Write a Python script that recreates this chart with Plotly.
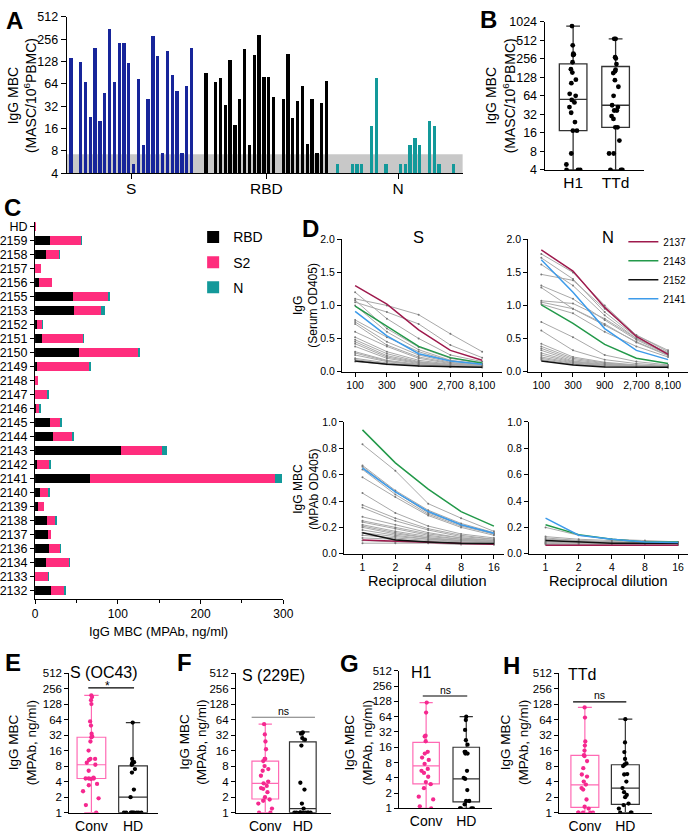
import numpy as np
import plotly.graph_objects as go

W, H = 700, 840
FONT = "Liberation Sans, Arial, sans-serif"
NARROW = "Liberation Sans Narrow, Liberation Sans, Arial, sans-serif"

# ---------------- data ----------------
# A: IgG MBC per subject (MASC/10^6 PBMC)
a_groups = ["S", "RBD", "N"]
a_s = [143, 4, 127, 68, 22.6, 197, 20, 48, 352, 68, 226, 226, 123, 5.3, 74, 9.5,
       40, 286, 153, 7.4, 175, 84, 51, 7.4, 60, 192]
a_rbd = [89, 4, 68, 76, 33, 136, 18, 40, 190, 9.5, 155, 292, 79, 79, 43, 4,
         40, 163, 22.5, 37, 60, 10, 40, 7.4, 35, 70]
a_n = [5.3, 4, 4, 5.3, 5.3, 5.3, 4, 17.4, 76, 4, 5.3, 4, 4, 5.3, 5.3, 9.5,
       12, 9.5, 4, 20, 17.4, 5.3, 4, 4, 5.3, 4]
a_ticks = [4, 8, 16, 32, 64, 128, 256, 512]

# B: H1 / TTd
b_cats = ["H1", "TTd"]
b_h1 = [870, 424, 310, 300, 295, 225, 173, 153, 117, 103, 69, 64, 55, 50, 42, 34,
        24, 17.4, 17.4, 7.4, 4.9, 4, 4, 4]
b_ttd = [540, 540, 272, 260, 210, 170, 160, 150, 115, 90, 64, 45, 42, 37, 37, 30,
         27, 19.7, 19.7, 12, 7.4, 7.4, 4, 4, 4]
b_h1_stats = [4, 17.4, 56, 212, 870]      # min, q1, median, q3, max
b_ttd_stats = [4, 19.7, 45, 192, 540]
b_ticks = [4, 8, 16, 32, 64, 128, 256, 512, 1024]

# C: MPAb ng/ml per subject
c_ids = ["HD", "2159", "2158", "2157", "2156", "2155", "2153", "2152", "2151", "2150",
         "2149", "2148", "2147", "2146", "2145", "2144", "2143", "2142", "2141", "2140",
         "2139", "2138", "2137", "2136", "2134", "2133", "2132"]
c_rbd = [0, 18.6, 13, 0, 4.8, 45.5, 46.7, 2.8, 8.7, 52.7, 2.8, 0, 0, 0.8, 17.8, 21.8,
         103.7, 2, 66.9, 5.9, 3.6, 14.3, 15.4, 17, 12.7, 0, 19]
c_s2 = [0.8, 37.6, 16.3, 7.1, 15.8, 43.5, 33.3, 5.9, 49.5, 72.8, 63.3, 3.6, 15, 4.3, 13.1,
        24.1, 50.3, 15.8, 222.9, 9.9, 6.7, 10.6, 3.6, 13.9, 28.9, 15.8, 16.6]
c_n = [0, 0.4, 0.4, 0, 0, 2, 4.3, 0.8, 0.4, 0.4, 0.4, 0, 1.2, 2, 1.1, 0.8,
       5.5, 0.4, 8.7, 1.2, 0, 1.2, 0, 0.4, 0.4, 0.4, 0.8]
c_ticks = [0, 100, 200, 300]

# D: OD405 dilution curves
d_serum_dil = ["100", "300", "900", "2,700", "8,100"]
d_mpab_dil = ["1", "2", "4", "8", "16"]
d_ids = ["2137", "2143", "2152", "2141"]
d_s_serum_hl = [[1.30, 1.02, 0.63, 0.32, 0.17], [0.99, 0.69, 0.38, 0.21, 0.13],
                [0.16, 0.11, 0.085, 0.07, 0.065], [0.91, 0.54, 0.27, 0.16, 0.11]]
d_n_serum_hl = [[1.84, 1.52, 0.97, 0.53, 0.26], [1.01, 0.73, 0.41, 0.20, 0.12],
                [0.16, 0.10, 0.07, 0.065, 0.065], [1.69, 1.20, 0.65, 0.32, 0.18]]
d_s_mpab_hl = [[0.105, 0.095, 0.082, 0.077, 0.072], [0.94, 0.69, 0.49, 0.32, 0.21],
               [0.16, 0.105, 0.09, 0.08, 0.077], [0.65, 0.47, 0.32, 0.22, 0.155]]
d_n_mpab_hl = [[0.065, 0.065, 0.065, 0.065, 0.065], [0.22, 0.145, 0.11, 0.09, 0.09],
               [0.10, 0.09, 0.08, 0.08, 0.08], [0.27, 0.14, 0.11, 0.09, 0.085]]
d_s_serum_gray = [
    [1.10, 1.00, 0.86, 0.57, 0.30], [1.20, 0.80, 0.50, 0.25, 0.15], [1.05, 0.90, 0.72, 0.40, 0.21],
    [1.08, 0.65, 0.37, 0.20, 0.12], [1.00, 0.60, 0.33, 0.17, 0.11], [0.78, 0.52, 0.30, 0.16, 0.10],
    [0.75, 0.45, 0.25, 0.14, 0.09], [0.72, 0.40, 0.22, 0.13, 0.09], [0.60, 0.38, 0.20, 0.12, 0.08],
    [0.52, 0.30, 0.17, 0.11, 0.08], [0.48, 0.27, 0.15, 0.10, 0.07], [0.45, 0.24, 0.14, 0.10, 0.07],
    [0.42, 0.22, 0.13, 0.09, 0.07], [0.38, 0.20, 0.12, 0.09, 0.07], [0.30, 0.17, 0.11, 0.08, 0.07],
    [0.28, 0.16, 0.10, 0.08, 0.07], [0.25, 0.15, 0.10, 0.08, 0.07], [0.20, 0.13, 0.09, 0.08, 0.07],
    [0.18, 0.12, 0.09, 0.07, 0.07], [0.15, 0.11, 0.09, 0.07, 0.06]]
d_n_serum_gray = [
    [1.78, 1.50, 1.00, 0.55, 0.30], [1.72, 1.40, 0.90, 0.52, 0.28], [1.62, 1.30, 0.85, 0.50, 0.27],
    [1.47, 1.38, 0.95, 0.55, 0.32], [1.30, 1.10, 0.78, 0.48, 0.26], [1.27, 0.95, 0.70, 0.45, 0.25],
    [1.07, 1.03, 0.80, 0.50, 0.28], [1.05, 0.95, 0.72, 0.44, 0.24], [1.02, 0.88, 0.60, 0.38, 0.22],
    [0.75, 0.52, 0.25, 0.15, 0.10], [0.62, 0.32, 0.18, 0.12, 0.09], [0.42, 0.22, 0.14, 0.10, 0.08],
    [0.38, 0.20, 0.13, 0.09, 0.08], [0.35, 0.18, 0.12, 0.09, 0.07], [0.32, 0.16, 0.11, 0.08, 0.07],
    [0.28, 0.15, 0.10, 0.08, 0.07], [0.25, 0.14, 0.10, 0.08, 0.07], [0.22, 0.13, 0.09, 0.07, 0.07],
    [0.20, 0.12, 0.09, 0.07, 0.06], [0.18, 0.11, 0.08, 0.07, 0.06]]
d_s_mpab_gray = [
    [0.83, 0.63, 0.38, 0.27, 0.17], [0.67, 0.48, 0.33, 0.23, 0.16], [0.66, 0.47, 0.31, 0.22, 0.15],
    [0.64, 0.45, 0.30, 0.21, 0.15], [0.58, 0.43, 0.29, 0.20, 0.14], [0.46, 0.31, 0.21, 0.15, 0.12],
    [0.37, 0.27, 0.19, 0.14, 0.11], [0.35, 0.25, 0.18, 0.13, 0.11], [0.28, 0.22, 0.16, 0.12, 0.10],
    [0.25, 0.20, 0.15, 0.12, 0.10], [0.24, 0.19, 0.14, 0.11, 0.10], [0.22, 0.17, 0.13, 0.11, 0.09],
    [0.21, 0.16, 0.12, 0.10, 0.09], [0.20, 0.15, 0.12, 0.10, 0.09], [0.18, 0.14, 0.11, 0.10, 0.09],
    [0.16, 0.13, 0.11, 0.09, 0.08], [0.14, 0.12, 0.10, 0.09, 0.08], [0.12, 0.11, 0.09, 0.08, 0.08],
    [0.10, 0.09, 0.09, 0.08, 0.07], [0.08, 0.08, 0.08, 0.07, 0.07]]
d_n_mpab_gray = [
    [0.20, 0.14, 0.11, 0.10, 0.09], [0.13, 0.11, 0.10, 0.09, 0.09], [0.12, 0.10, 0.09, 0.09, 0.08],
    [0.11, 0.10, 0.09, 0.08, 0.08], [0.10, 0.09, 0.09, 0.08, 0.08], [0.09, 0.09, 0.08, 0.08, 0.08],
    [0.09, 0.08, 0.08, 0.08, 0.07], [0.08, 0.08, 0.08, 0.07, 0.07], [0.08, 0.07, 0.07, 0.07, 0.07],
    [0.07, 0.07, 0.07, 0.07, 0.07]]

# E-H: Conv vs HD
efgh_cats = ["Conv", "HD"]
efgh_ticks = [1, 2, 4, 8, 16, 32, 64, 128, 256, 512]
e_conv = [189, 175, 152, 128, 59, 49, 34, 30, 29, 24, 16, 11, 11, 10.5, 9.3, 8.5, 6.5,
          4.8, 4.6, 4.6, 4.5, 4.6, 3.6, 3.4, 2.6, 1.9, 1.4, 1]
e_hd = [56, 11, 9.5, 9.5, 9, 8.5, 7, 6, 2.8, 2, 1, 1, 1, 1, 1, 1, 1, 1, 1]
e_conv_stats = [1, 4.6, 8.5, 29, 189]
e_hd_stats = [1, 1, 2, 8.1, 56]
f_conv = [52, 33, 24, 17, 11, 11, 10, 8, 7, 6.5, 5.2, 4, 3.7, 3.3, 3, 2.9, 2.5, 2.0,
          1.8, 1.7, 1.5, 1.2, 1, 1]
f_hd = [36, 35, 34, 28, 26, 20, 3.8, 2.8, 1.5, 1.2, 1, 1, 1, 1, 1, 1, 1, 1, 1, 1]
f_conv_stats = [1, 1.84, 3.7, 10, 52]
f_hd_stats = [1, 1, 1.2, 23.6, 36.8]
g_conv = [121, 77, 27, 26, 21, 13, 12, 10, 9, 7.5, 6, 5.5, 5, 4.2, 3.3, 3, 2.5, 1.7,
          1.5, 1.1, 1]
g_hd = [64, 55, 35, 22, 18, 13, 13, 12, 12, 5.5, 4.0, 3.8, 2.3, 1.4, 1.4, 1.2, 1, 1, 1, 1]
g_conv_stats = [1, 3.05, 6.9, 20, 121]
g_hd_stats = [1, 1.35, 3.8, 16, 64]
h_conv = [110, 70, 24, 20, 16, 13, 12.5, 10, 7.3, 5.5, 5, 4, 3.5, 3, 2.8, 1.8, 1.3,
          1.2, 1, 1, 1, 1, 1]
h_hd = [65, 23, 15, 11, 9, 8.5, 8, 5.6, 5.5, 4, 3, 2.5, 2.2, 2, 1.5, 1.4, 1.2, 1, 1, 1]
h_conv_stats = [1, 1.26, 3.46, 12.9, 110]
h_hd_stats = [1, 1.45, 3.0, 8.5, 65]

# ---------------- styles ----------------
BLUE = "#17259A"
TEAL = "#13999A"
PINK = "#FF2D7D"
PINK_PT = "#F5288F"
PINK_BOX = "#FF6AB4"
GRAY_LINE = "#A9A9A9"
D_COLORS = ["#9E1A4D", "#23994A", "#111111", "#3D9BEA"]


def px(x):
    return x / W


def py(y):
    return 1 - y / H


def axis(dom, anchor, **kw):
    base = dict(domain=dom, anchor=anchor, showgrid=False, zeroline=False, showline=True,
                linecolor="black", linewidth=1.2, ticks="outside", ticklen=4,
                tickcolor="black", tickwidth=1.1, fixedrange=True,
                tickfont=dict(family=FONT, size=12, color="black"))
    base.update(kw)
    return base


fig = go.Figure()

# ---------------- A ----------------
a_offsets = [0, 28, 55.3]
a_centers = []
for vals, col, off in zip([a_s, a_rbd, a_n], [BLUE, "black", TEAL], a_offsets):
    xs = np.arange(len(vals)) + off
    a_centers.append(off + (len(vals) - 1) / 2)
    fig.add_trace(go.Bar(x=xs, y=vals, width=0.68, marker=dict(color=col, line=dict(width=0)),
                         xaxis="x", yaxis="y", showlegend=False, hoverinfo="skip"))


# ---------------- B ----------------
def add_box(xa, ya, cat, vals, stats, line_col, pt_col, width, lw=1.2, psize=4.5):
    lo, q1, med, q3, hi = stats
    fig.add_trace(go.Box(x=[cat], q1=[q1], median=[med], q3=[q3], lowerfence=[lo],
                         upperfence=[hi], boxpoints=False, width=width, whiskerwidth=0.5,
                         fillcolor="rgba(0,0,0,0)", line=dict(color=line_col, width=lw),
                         xaxis=xa, yaxis=ya, showlegend=False, hoverinfo="skip"))
    fig.add_trace(go.Box(x=[cat] * len(vals), y=vals, boxpoints="all", jitter=0.75, pointpos=0,
                         width=width, fillcolor="rgba(0,0,0,0)",
                         line=dict(color="rgba(0,0,0,0)", width=0),
                         marker=dict(color=pt_col, size=psize),
                         xaxis=xa, yaxis=ya, showlegend=False, hoverinfo="skip"))


add_box("x2", "y2", b_cats[0], b_h1, b_h1_stats, "#333333", "black", 0.65, 1.3, 4.8)
add_box("x2", "y2", b_cats[1], b_ttd, b_ttd_stats, "#333333", "black", 0.65, 1.3, 4.8)

# ---------------- C ----------------
for vals, col, name in zip([c_rbd, c_s2, c_n], ["black", PINK, TEAL], ["RBD", "S2", "N"]):
    fig.add_trace(go.Bar(y=c_ids, x=vals, orientation="h", width=0.7, name=name,
                         marker=dict(color=col, line=dict(width=0)), legendgroup=name,
                         xaxis="x3", yaxis="y3", legend="legend", hoverinfo="skip"))

# ---------------- D ----------------
d_panels = [
    ("x4", "y4", d_serum_dil, d_s_serum_gray, d_s_serum_hl, True),
    ("x5", "y5", d_serum_dil, d_n_serum_gray, d_n_serum_hl, False),
    ("x6", "y6", d_mpab_dil, d_s_mpab_gray, d_s_mpab_hl, False),
    ("x7", "y7", d_mpab_dil, d_n_mpab_gray, d_n_mpab_hl, False),
]
for xa, ya, dil, grays, hls, show in d_panels:
    for g in grays:
        fig.add_trace(go.Scatter(x=dil, y=g, mode="lines+markers",
                                 line=dict(color=GRAY_LINE, width=1),
                                 marker=dict(color="#777777", size=2),
                                 xaxis=xa, yaxis=ya, showlegend=False, hoverinfo="skip"))
    for sid, vals, col in zip(d_ids, hls, D_COLORS):
        fig.add_trace(go.Scatter(x=dil, y=vals, mode="lines", name=sid,
                                 line=dict(color=col, width=1.5), legendgroup=sid,
                                 legend="legend2", showlegend=show,
                                 xaxis=xa, yaxis=ya, hoverinfo="skip"))

# ---------------- E-H ----------------
efgh = [
    ("x8", "y8", e_conv, e_conv_stats, e_hd, e_hd_stats, 0.69),
    ("x9", "y9", f_conv, f_conv_stats, f_hd, f_hd_stats, 0.71),
    ("x10", "y10", g_conv, g_conv_stats, g_hd, g_hd_stats, 0.66),
    ("x11", "y11", h_conv, h_conv_stats, h_hd, h_hd_stats, 0.69),
]
for xa, ya, cv, cs, hv, hs, bw in efgh:
    add_box(xa, ya, efgh_cats[0], cv, cs, PINK_BOX, PINK_PT, bw, 1.2, 4.3)
    add_box(xa, ya, efgh_cats[1], hv, hs, "#333333", "black", bw, 1.2, 4.3)

# ---------------- layout ----------------
lay = dict(
    width=W, height=H, margin=dict(l=0, r=0, t=0, b=0),
    paper_bgcolor="white", plot_bgcolor="white",
    font=dict(family=FONT, color="black"),
    barmode="stack", boxmode="overlay",
)

# A
lay["xaxis"] = axis([px(64), px(468)], "y", range=[-0.87, 81.2], tickvals=a_centers,
                    ticktext=a_groups, ticklen=5, ticklabelstandoff=-4,
                    tickfont=dict(family=FONT, size=15.5))
lay["yaxis"] = axis([py(169), py(10)], "x", type="log", range=[np.log10(4), np.log10(512)],
                    tickvals=a_ticks, ticktext=[str(t) for t in a_ticks], ticklen=5,
                    tickfont=dict(family=FONT, size=12.5))
# B
lay["xaxis2"] = axis([px(551.7), px(652.7)], "y2", type="category", categoryarray=b_cats,
                     range=[-0.67, 1.66], ticks="", ticklabelstandoff=-2,
                     tickfont=dict(family=FONT, size=15.5))
lay["yaxis2"] = axis([py(165.7), py(15)], "x2", type="log", range=[np.log10(4), np.log10(1024)],
                     tickvals=b_ticks, ticktext=[str(t) for t in b_ticks],
                     tickfont=dict(family=FONT, size=12.5))
# C
lay["xaxis3"] = axis([px(31.7), px(285)], "y3", range=[0, 300], tickvals=c_ticks,
                     minor=dict(tickvals=[50, 150, 250], ticks="outside", ticklen=3,
                                tickcolor="black"),
                     tickfont=dict(family=FONT, size=12))
lay["yaxis3"] = axis([py(601.7), py(219)], "x3", type="category", categoryarray=c_ids,
                     tickmode="array", tickvals=c_ids, ticktext=c_ids,
                     range=[26.59, -0.3], ticklen=4, tickfont=dict(family=FONT, size=12.5))
# D
dfont = dict(family=NARROW, size=10.5)
lay["xaxis4"] = axis([px(345), px(508)], "y4", type="category", range=[-0.41, 4.62], tickfont=dfont)
lay["yaxis4"] = axis([py(370.7), py(236.3)], "x4", range=[0, 2.0], dtick=0.5, tickformat=".1f",
                     tickfont=dfont)
lay["xaxis5"] = axis([px(535), px(698.3)], "y5", type="category", range=[-0.41, 4.64], tickfont=dfont)
lay["yaxis5"] = axis([py(370.7), py(236.3)], "x5", range=[0, 2.0], dtick=0.5, tickformat=".1f",
                     tickfont=dfont)
lay["xaxis6"] = axis([px(347), px(510)], "y6", type="category", range=[-0.56, 4.3], tickfont=dfont)
lay["yaxis6"] = axis([py(556), py(422)], "x6", range=[0, 1.0], dtick=0.2, tickformat=".1f",
                     tickfont=dfont)
lay["xaxis7"] = axis([px(535.7), px(698.3)], "y7", type="category", range=[-0.5, 4.31], tickfont=dfont)
lay["yaxis7"] = axis([py(556), py(422)], "x7", range=[0, 1.0], dtick=0.2, tickformat=".1f",
                     tickfont=dfont)
# E-H
efgh_dom = [
    ([px(66.7), px(156.7)], [py(819.3), py(677.3)], [-0.53, 1.59]),
    ([px(236.7), px(333.3)], [py(819.3), py(677.3)], [-0.78, 1.74]),
    ([px(403.3), px(498.3)], [py(815), py(675)], [-0.67, 1.65]),
    ([px(566.7), px(661.7)], [py(819.3), py(677.3)], [-0.63, 1.67]),
]
for i, (xd, yd, xr) in enumerate(efgh_dom):
    n = 8 + i
    lay[f"xaxis{n}"] = axis(xd, f"y{n}", type="category", categoryarray=efgh_cats, range=xr,
                            ticks="", tickfont=dict(family=FONT, size=14))
    lay[f"yaxis{n}"] = axis(yd, f"x{n}", type="log", range=[0, np.log10(512)],
                            tickvals=efgh_ticks, ticktext=[str(t) for t in efgh_ticks],
                            tickfont=dict(family=FONT, size=11.5))

lay["legend"] = dict(x=px(193), y=py(218), xanchor="left", yanchor="top",
                     font=dict(family=FONT, size=14), bgcolor="rgba(0,0,0,0)",
                     tracegroupgap=4, traceorder="grouped")
lay["legend2"] = dict(x=px(632), y=py(224), xanchor="left", yanchor="top",
                      font=dict(family=FONT, size=10), bgcolor="rgba(0,0,0,0)",
                      tracegroupgap=0, traceorder="grouped", itemwidth=30)

# gray detection band in A
shapes = [dict(type="rect", xref="x domain", yref="y domain", x0=0, x1=1, y0=0,
               y1=np.log2(7.2 / 4) / 7, fillcolor="#C8C8C8", line=dict(width=0), layer="below")]
# significance bars
for x0, x1, yb, col in [(86, 132.7, 692.5, "black"), (252.7, 317.3, 722.3, "#777777"),
                        (427.3, 472.7, 700.7, "black"), (580.7, 635, 706.7, "black")]:
    shapes.append(dict(type="line", xref="paper", yref="paper", x0=px(x0), x1=px(x1),
                       y0=py(yb), y1=py(yb), line=dict(color=col, width=1.2)))
lay["shapes"] = shapes

ann = []


def text(x, y, s, size, angle=0, bold=False, family=FONT, xanchor="center"):
    ann.append(dict(x=px(x), y=py(y), xref="paper", yref="paper", text=f"<b>{s}</b>" if bold else s,
                    showarrow=False, textangle=angle, xanchor=xanchor, yanchor="middle",
                    font=dict(family=family, size=size, color="black")))


for letter, x, y in [("A", 11, 14), ("B", 494, 13), ("C", 9, 204), ("D", 313, 225),
                     ("E", 9, 667), ("F", 184, 667), ("G", 353, 668), ("H", 518, 670)]:
    text(x, y, letter, 24, bold=True)

text(19, 90, "IgG MBC<br>(MASC/10<sup>6</sup>PBMC)", 14, -90)
text(507, 90, "IgG MBC<br>(MASC/10<sup>6</sup>PBMC)", 14, -90)
text(158, 635, "IgG MBC (MPAb, ng/ml)", 13)
text(308, 303, "IgG<br>(Serum OD405)", 12, -90)
text(308, 490, "IgG MBC<br>(MPAb OD405)", 12, -90)
text(422.7, 234, "S", 16.5)
text(616.7, 234, "N", 16.5)
text(431.7, 584, "Reciprocal dilution", 14.5)
text(616.7, 584, "Reciprocal dilution", 14.5)
for x in [19, 193, 362, 521]:
    text(x, 748, "IgG MBC<br>(MPAb, ng/ml)", 13.5, -90)
text(101.7, 677, "S (OC43)", 16)
text(275, 680, "S (229E)", 16)
text(426, 677, "H1", 16)
text(590, 679, "TTd", 16)
text(106, 690, "*", 12)
text(285, 716, "ns", 10.5)
text(450, 695, "ns", 10.5)
text(608, 700, "ns", 10.5)
lay["annotations"] = ann

fig.update_layout(**lay)
fig.write_html("out.html", config={"displayModeBar": False},
               post_script="document.body.style.margin='0px';")
